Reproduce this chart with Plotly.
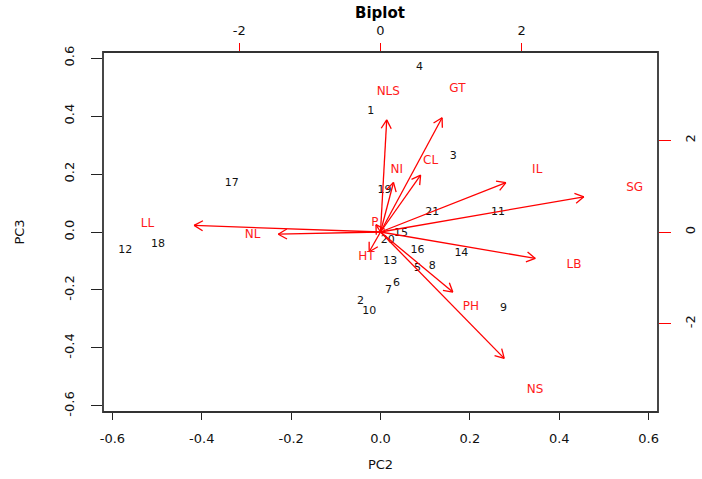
import numpy as np
import plotly.graph_objects as go

# ---- observation scores (PC2, PC3) ----
obs_labels = [str(i) for i in range(1, 22)]
pc2 = [-0.022, -0.045, 0.163, 0.087, 0.083, 0.036, 0.018, 0.116, 0.275, -0.025,
       0.263, -0.571, 0.022, 0.181, 0.046, 0.083, -0.333, -0.498, 0.009, 0.016, 0.116]
pc3 = [0.417, -0.238, 0.262, 0.569, -0.124, -0.176, -0.200, -0.117, -0.262, -0.272,
       0.069, -0.062, -0.100, -0.072, -0.005, -0.062, 0.169, -0.041, 0.145, -0.028, 0.069]

# ---- variable loadings (secondary axes) ----
var_names = ["NLS", "GT", "NI", "CL", "IL", "SG", "LL", "NL", "P", "HT", "LB", "PH", "NS"]
load_x = [0.11, 1.09, 0.23, 0.71, 2.22, 3.60, -3.30, -1.81, -0.08, -0.20, 2.74, 1.28, 2.19]
load_y = [3.06, 3.12, 1.35, 1.55, 1.35, 0.96, 0.18, -0.06, 0.20, -0.54, -0.72, -1.64, -3.45]

x_ticks = [-0.6, -0.4, -0.2, 0.0, 0.2, 0.4, 0.6]
y_ticks = [-0.6, -0.4, -0.2, 0.0, 0.2, 0.4, 0.6]
sec_ticks = [-2, 0, 2]

# layout geometry
W, H = 702, 479
ML, MR, MT, MB = 103, 44, 52, 67
prim = 0.621
ratio = 0.158
sec = prim / ratio

FONT = "DejaVu Sans, Liberation Sans, Arial"

fig = go.Figure()

# observation labels
fig.add_trace(go.Scatter(
    x=pc2, y=pc3, mode="text", text=obs_labels,
    textfont=dict(family=FONT, size=11, color="#111"),
    showlegend=False, hoverinfo="skip"))

# arrows (0.8 x loadings, as in R biplot)
tips_x = [0.8 * v for v in load_x]
tips_y = [0.8 * v for v in load_y]
kx = (W - ML - MR) / (2 * sec)
ky = (H - MT - MB) / (2 * sec)
L = 10.0
ang = np.deg2rad(30)
lx, ly = [], []
for tx, ty in zip(tips_x, tips_y):
    lx += [0, tx, None]
    ly += [0, ty, None]
    th = np.arctan2(ty * ky, tx * kx)
    for s in (ang, -ang):
        hx = tx - L * np.cos(th + s) / kx
        hy = ty - L * np.sin(th + s) / ky
        lx += [tx, hx, None]
        ly += [ty, hy, None]
fig.add_trace(go.Scatter(
    x=lx, y=ly, mode="lines", line=dict(color="red", width=1.3),
    xaxis="x2", yaxis="y2", showlegend=False, hoverinfo="skip"))

# variable labels
fig.add_trace(go.Scatter(
    x=load_x, y=load_y, mode="text", text=var_names,
    textfont=dict(family=FONT, size=12, color="#ff1a1a"),
    xaxis="x2", yaxis="y2", showlegend=False, hoverinfo="skip"))

tickfont = dict(family=FONT, size=13, color="#111")
fig.update_layout(
    width=W, height=H,
    margin=dict(l=ML, r=MR, t=MT, b=MB, pad=0, autoexpand=False),
    paper_bgcolor="white", plot_bgcolor="white",
    title=dict(text="<b>Biplot</b>", x=380 / W, xref="container", xanchor="center",
               y=1 - 13 / H, yanchor="middle", yref="container",
               font=dict(family=FONT, size=15, color="black")),
    xaxis=dict(range=[-prim, prim], tickvals=x_ticks,
               ticktext=[f"{v:.1f}" for v in x_ticks],
               ticks="outside", ticklen=7, tickcolor="#222", tickwidth=1.3,
               ticklabelstandoff=7,
               showline=False, showgrid=False, zeroline=False, automargin=False,
               tickfont=tickfont,
               title=dict(text="PC2", standoff=15, font=tickfont)),
    yaxis=dict(range=[-prim, prim], tickvals=y_ticks,
               ticktext=[f"{v:.1f}" for v in y_ticks],
               ticks="outside", ticklen=11, tickcolor="#222", tickwidth=1.3,
               tickangle=-90, ticklabelstandoff=12, automargin=False,
               showline=False, showgrid=False, zeroline=False,
               tickfont=tickfont,
               title=dict(text="PC3", standoff=34, font=tickfont)),
    xaxis2=dict(range=[-sec, sec], overlaying="x", side="top",
                tickvals=sec_ticks, ticktext=[str(v) for v in sec_ticks],
                ticks="outside", ticklen=8, tickcolor="red", tickwidth=1.3,
                ticklabelstandoff=3, automargin=False,
                showgrid=False, zeroline=False, showline=False, tickfont=tickfont),
    yaxis2=dict(range=[-sec, sec], overlaying="y", side="right",
                tickvals=sec_ticks, ticktext=[str(v) for v in sec_ticks],
                ticks="outside", ticklen=12, tickcolor="red", tickwidth=1.3,
                tickangle=-90, ticklabelstandoff=8, automargin=False,
                showgrid=False, zeroline=False, showline=False, tickfont=tickfont),
    shapes=[dict(type="rect", xref="paper", yref="paper", x0=0, y0=0, x1=1, y1=1,
                 line=dict(color="#333", width=1.8), layer="above")],
)

fig.write_html("out.html", config={"displayModeBar": False},
               post_script="document.body.style.margin='0';document.body.style.padding='0';")
